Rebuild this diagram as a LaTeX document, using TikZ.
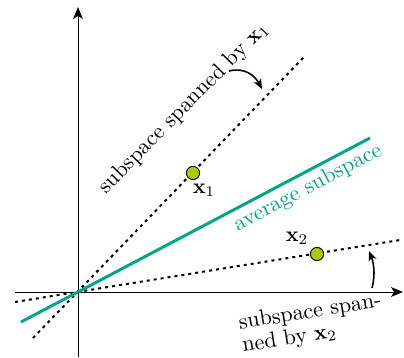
\documentclass[tikz,border=0pt]{standalone}
\usetikzlibrary{arrows.meta}
\definecolor{avgteal}{RGB}{0,166,136}
\definecolor{ptgreen}{RGB}{168,204,0}
\begin{document}
\begin{tikzpicture}[x=0.47pt,y=-0.47pt,
  axis/.style={line width=0.45pt,-{Stealth[length=5.6pt,width=4.6pt,inset=1.4pt]}},
  spanline/.style={line width=0.95pt,dash pattern=on 1.4pt off 1.9pt},
  avgline/.style={line width=1.4pt,draw=avgteal},
  ptmark/.style={circle,draw=black,fill=ptgreen,inner sep=0pt,minimum size=6.2pt,line width=0.45pt},
  curvarrow/.style={line width=0.75pt,-{Stealth[length=4.6pt,width=3.8pt,inset=1.2pt]}},
  txt/.style={font=\fontsize{10.4}{11}\selectfont,inner sep=0pt}]
\useasboundingbox (0,0) rectangle (404,358);
% axes
\coordinate (ybot) at (78,357);
\coordinate (ytop) at (78,7);
\coordinate (xl) at (15,292);
\coordinate (xr) at (403,292);
\draw[axis] (ybot) -- (ytop);
\draw[axis] (xl) -- (xr);
% lines
\coordinate (a1) at (33,338); \coordinate (b1) at (304,57);
\coordinate (a2) at (15,302); \coordinate (b2) at (400,240);
\coordinate (a3) at (21,322); \coordinate (b3) at (370,138);
\draw[spanline] (a1) -- (b1);
\draw[spanline] (a2) -- (b2);
\draw[avgline] (a3) -- (b3);
% points
\node[ptmark] (p1) at (193,173) {};
\node[ptmark] (p2) at (317,254) {};
\node[txt] (l1) at (204,190) {$\mathbf{x}_1$};
\node[txt] (l2) at (297,238) {$\mathbf{x}_2$};
% texts
\node[txt,rotate=45.5] (t1) at (184,108) {subspace spanned by $\mathbf{x}_1$};
\node[txt,rotate=27.8,text=avgteal] (t2) at (308,188) {average subspace};
\node[txt,rotate=9,align=left,font=\fontsize{10.4}{10.8}\selectfont] (t3) at (312,324) {subspace span-\\ned by $\mathbf{x}_2$};
% curved arrows
\coordinate (c1s) at (229,71); \coordinate (c1e) at (262,89);
\draw[curvarrow] (c1s) .. controls (245,67) and (255,76) .. (c1e);
\coordinate (c2s) at (372,288); \coordinate (c2e) at (369,251);
\draw[curvarrow] (c2s) .. controls (376,273) and (373,261) .. (c2e);
\end{tikzpicture}
\end{document}
